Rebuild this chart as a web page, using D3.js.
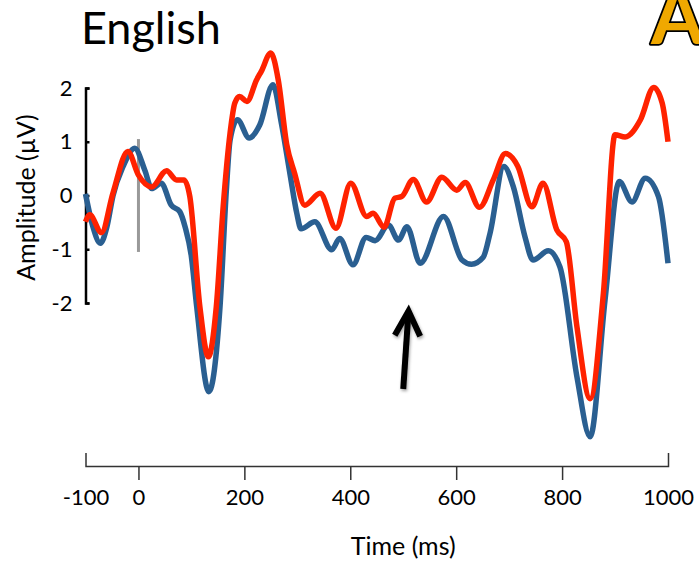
<!DOCTYPE html>
<html lang="en">
<head>
    <meta charset="UTF-8">
    <title>English ERP</title>
    <script src="https://d3js.org/d3.v7.min.js"></script>
    <style>
        body, html {
          margin: 0;
          padding: 0;
          width: 100%;
          height: 100%;
          overflow: hidden;
          background: #fff;
        }
        svg {
          display: block;
          font-family: Lato, "Noto Sans", sans-serif;
        }
        .wave {
          fill: none;
          stroke-width: 5.5px;
          stroke-linejoin: round;
        }
    </style>
</head>
<body>
<svg></svg>
<script>
    // Blue condition (ms, µV)
    const blueTimes  = [-100, -86, -72, -60, -48, -29, -7, 12, 25, 43, 62, 78, 88, 100, 110, 133, 154, 166, 173, 187, 209, 229, 254, 270, 286, 299, 307, 333, 365, 380, 405, 430, 447, 472, 491, 507, 532, 576, 611, 629, 651, 664, 690, 708, 730, 745, 774, 796, 828, 853, 881, 908, 932, 957, 982, 1000];
    const blueValues = [0.03, -0.58, -0.89, -0.6, 0.0, 0.54, 0.88, 0.47, 0.13, 0.23, -0.18, -0.3, -0.58, -1.14, -2.07, -3.65, -2.07, 0.1, 1.03, 1.41, 1.07, 1.31, 2.06, 1.34, 0.41, -0.33, -0.62, -0.49, -1.01, -0.8, -1.29, -0.78, -0.84, -0.55, -0.83, -0.58, -1.26, -0.39, -1.2, -1.28, -1.15, -0.7, 0.54, 0.16, -0.77, -1.2, -1.03, -1.33, -3.37, -4.49, -1.95, 0.26, -0.12, 0.32, -0.02, -1.26];

    // Red condition (ms, µV)
    const redTimes  = [-100, -92, -70, -48, -20, 0, 25, 53, 72, 86, 97, 116, 132, 147, 160, 173, 182, 191, 205, 223, 232, 250, 264, 280, 295, 314, 343, 373, 401, 431, 443, 464, 484, 497, 519, 544, 573, 601, 617, 644, 670, 693, 716, 743, 764, 790, 808, 828, 853, 878, 900, 919, 948, 973, 989, 1000];
    const redValues = [-0.49, -0.36, -0.69, 0.05, 0.82, 0.38, 0.16, 0.46, 0.29, 0.29, -0.02, -2.07, -3.0, -2.07, -0.21, 1.16, 1.72, 1.84, 1.75, 2.15, 2.31, 2.65, 2.15, 0.95, 0.41, -0.18, 0.04, -0.61, 0.23, -0.39, -0.33, -0.59, -0.05, -0.02, 0.3, -0.12, 0.34, 0.1, 0.24, -0.22, 0.29, 0.78, 0.55, -0.21, 0.23, -0.64, -0.86, -2.44, -3.78, -1.82, 1.13, 1.09, 1.41, 2.01, 1.72, 1.0];

    const xTicks = [-100, 0, 200, 400, 600, 800, 1000];
    const yTicks = [-2, -1, 0, 1, 2];

    const width = 699;
    const height = 563;

    const svg = d3.select("svg")
      .attr("width", width)
      .attr("height", height);

    const x = d3.scaleLinear().domain([-100, 1000]).range([85.5, 668]);
    const y = d3.scaleLinear().domain([-2, 2]).range([303, 88]);

    // title and panel letter (the letter runs off the top/right edge, as in the figure)
    svg.append("text")
      .attr("x", 81).attr("y", 44)
      .attr("font-size", 45)
      .attr("fill", "#000")
      .text("English");

    svg.append("text")
      .attr("x", 651).attr("y", 44)
      .attr("font-size", 76)
      .attr("font-weight", "bold")
      .attr("fill", "#f0a800")
      .attr("stroke", "#000")
      .attr("stroke-width", 3.5)
      .attr("stroke-linejoin", "round")
      .attr("paint-order", "stroke")
      .text("A");

    // y axis
    const yAxis = svg.append("g")
      .attr("transform", `translate(${x(-100)},0)`)
      .call(d3.axisLeft(y).tickValues(yTicks).tickSizeInner(-4).tickSizeOuter(-4).tickPadding(13).tickFormat(d => String(d)));
    yAxis.selectAll("path, line").attr("stroke", "#000").attr("stroke-width", 2.5);
    yAxis.selectAll("text").attr("font-size", 22).attr("font-family", "Lato, sans-serif").attr("fill", "#000");

    svg.append("text")
      .attr("transform", `translate(35,${y(0) + 2}) rotate(-90)`)
      .attr("text-anchor", "middle")
      .attr("font-size", 25)
      .text("Amplitude (µV)");

    // x axis
    const xAxis = svg.append("g")
      .attr("transform", "translate(0,466)")
      .call(d3.axisBottom(x).tickValues(xTicks).tickSizeInner(14).tickSizeOuter(-13).tickPadding(9).tickFormat(d => String(d)));
    xAxis.selectAll("path, line").attr("stroke", "#333").attr("stroke-width", 1.5);
    xAxis.selectAll(".tick").filter(d => d === -100 || d === 1000).select("line").remove();
    xAxis.selectAll("text").attr("font-size", 22).attr("font-family", "Lato, sans-serif").attr("fill", "#000");

    svg.append("text")
      .attr("x", x(500)).attr("y", 555)
      .attr("text-anchor", "middle")
      .attr("font-size", 25)
      .text("Time (ms)");

    // stimulus onset marker
    svg.append("line")
      .attr("x1", x(0)).attr("x2", x(0))
      .attr("y1", y(1.05)).attr("y2", y(-1.05))
      .attr("stroke", "#999")
      .attr("stroke-width", 3);

    const line = d3.line()
      .x(d => x(d[0]))
      .y(d => y(d[1]))
      .curve(d3.curveMonotoneX);

    svg.append("path")
      .attr("class", "wave")
      .attr("stroke", "#2a5f91")
      .attr("d", line(d3.zip(blueTimes, blueValues)));

    svg.append("path")
      .attr("class", "wave")
      .attr("stroke", "#ff2200")
      .attr("d", line(d3.zip(redTimes, redValues)));

    // arrow annotation
    const arrow = svg.append("g")
      .attr("fill", "none")
      .attr("stroke", "#000")
      .attr("stroke-width", 6)
      .style("filter", "drop-shadow(1px 2px 1.5px rgba(0,0,0,0.35))");
    arrow.append("line")
      .attr("x1", x(500)).attr("y1", y(-3.6))
      .attr("x2", x(510)).attr("y2", y(-2.15));
    arrow.append("path")
      .attr("stroke-linejoin", "miter")
      .attr("d", `M${x(484)},${y(-2.6)}L${x(510)},${y(-2.15)}L${x(532)},${y(-2.62)}`);
</script>
</body>
</html>
